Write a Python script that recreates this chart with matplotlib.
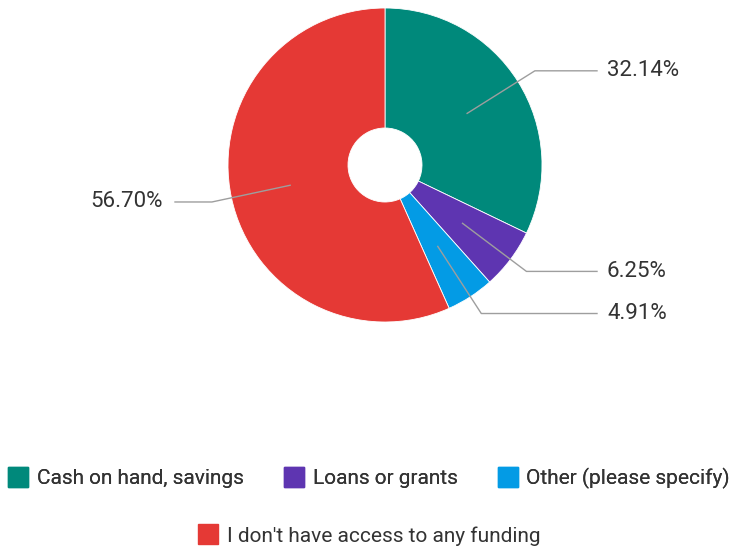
import numpy as np
import matplotlib.pyplot as plt
from matplotlib.lines import Line2D

categories = ['Cash on hand, savings', 'Loans or grants', 'Other (please specify)',
              "I don't have access to any funding"]
values = [32.14, 6.25, 4.91, 56.70]
labels = ['32.14%', '6.25%', '4.91%', '56.70%']
colors = ['#00897B', '#5E35B1', '#039BE5', '#E53935']

plt.rcParams['font.family'] = ['Roboto', 'DejaVu Sans']

W, H = 738, 551
fig = plt.figure(figsize=(W / 100, H / 100), dpi=100)
ax = fig.add_axes([0, 0, 1, 1])

cx, cy, R = 385, H - 165, 157
hole = 37
wedges, _ = ax.pie(values, colors=colors, startangle=90, counterclock=False,
                   center=(cx, cy), radius=R, frame=True,
                   wedgeprops=dict(width=R - hole, edgecolor='white', linewidth=0.6))
ax.set_xlim(0, W)
ax.set_ylim(0, H)
ax.set_aspect('auto')
ax.axis('off')

r_in, r_out = 97, 177
for w, lab in zip(wedges, labels):
    ang = np.deg2rad((w.theta1 + w.theta2) / 2)
    x0, y0 = cx + r_in * np.cos(ang), cy + r_in * np.sin(ang)
    x1, y1 = cx + r_out * np.cos(ang), cy + r_out * np.sin(ang)
    if np.cos(ang) >= 0:
        x2, tx, ha = 597, 607, 'left'
    else:
        x2, tx, ha = 175, 163, 'right'
    ax.plot([x0, x1, x2], [y0, y1, y1], color='#9e9e9e', lw=1)
    ax.text(tx, y1, lab, ha=ha, va='center', fontsize=16, color='#333333')

def handle(c):
    return Line2D([], [], marker='s', linestyle='none', markersize=15,
                  markerfacecolor=c, markeredgecolor=c)

leg1 = fig.legend([handle(c) for c in colors[:3]], categories[:3], ncol=3,
                  loc='center', bbox_to_anchor=(0.5, 1 - 478 / H), frameon=False,
                  fontsize=15, handletextpad=0.4, columnspacing=1.9,
                  handlelength=1.0, labelcolor='#333333')
leg2 = fig.legend([handle(colors[3])], categories[3:], loc='center',
                  bbox_to_anchor=(0.5, 1 - 536 / H), frameon=False,
                  fontsize=15, handletextpad=0.4, handlelength=1.0,
                  labelcolor='#333333')
fig.add_artist(leg1)

fig.savefig('out.png', dpi=100)
